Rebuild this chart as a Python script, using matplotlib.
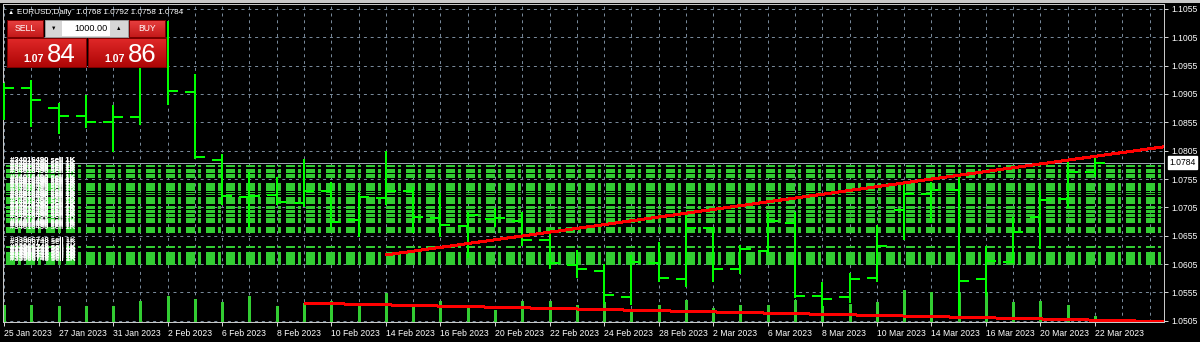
import numpy as np
import matplotlib.pyplot as plt
from matplotlib.patches import Rectangle
from matplotlib.colors import to_rgb

plt.rcParams['font.family'] = ['Liberation Sans', 'DejaVu Sans']

W, H = 1200, 342

dates = ['25 Jan 2023', '26 Jan 2023', '27 Jan 2023', '30 Jan 2023', '31 Jan 2023',
         '1 Feb 2023', '2 Feb 2023', '3 Feb 2023', '6 Feb 2023', '7 Feb 2023',
         '8 Feb 2023', '9 Feb 2023', '10 Feb 2023', '13 Feb 2023', '14 Feb 2023',
         '15 Feb 2023', '16 Feb 2023', '17 Feb 2023', '20 Feb 2023', '21 Feb 2023',
         '22 Feb 2023', '23 Feb 2023', '24 Feb 2023', '27 Feb 2023', '28 Feb 2023',
         '1 Mar 2023', '2 Mar 2023', '3 Mar 2023', '6 Mar 2023', '7 Mar 2023',
         '8 Mar 2023', '9 Mar 2023', '10 Mar 2023', '13 Mar 2023', '14 Mar 2023',
         '15 Mar 2023', '16 Mar 2023', '17 Mar 2023', '20 Mar 2023', '21 Mar 2023',
         '22 Mar 2023']

open_ = [1.0905, 1.0916, 1.0880, 1.0866, 1.0856, 1.0864, 1.0990, 1.0909, 1.0789, 1.0724,
         1.0727, 1.0713, 1.0733, 1.0683, 1.0721, 1.0733, 1.0687, 1.0672, 1.0684, 1.0681,
         1.0647, 1.0603, 1.0593, 1.0546, 1.0606, 1.0578, 1.0668, 1.0597, 1.0628, 1.0678,
         1.0548, 1.0547, 1.0580, 1.0700, 1.0729, 1.0736, 1.0578, 1.0609, 1.0688, 1.0719,
         1.0768]
high = [1.0925, 1.0930, 1.0890, 1.0903, 1.0885, 1.0995, 1.1034, 1.0940, 1.0800, 1.0768,
        1.0759, 1.0791, 1.0750, 1.0730, 1.0804, 1.0741, 1.0730, 1.0697, 1.0703, 1.0697,
        1.0668, 1.0630, 1.0605, 1.0621, 1.0644, 1.0691, 1.0670, 1.0638, 1.0695, 1.0697,
        1.0574, 1.0590, 1.0674, 1.0747, 1.0750, 1.0759, 1.0636, 1.0688, 1.0733, 1.0789,
        1.0792]
low = [1.0860, 1.0847, 1.0835, 1.0845, 1.0803, 1.0850, 1.0886, 1.0791, 1.0709, 1.0668,
       1.0709, 1.0706, 1.0665, 1.0653, 1.0709, 1.0659, 1.0653, 1.0615, 1.0670, 1.0636,
       1.0597, 1.0580, 1.0534, 1.0533, 1.0573, 1.0565, 1.0574, 1.0588, 1.0621, 1.0545,
       1.0525, 1.0537, 1.0574, 1.0647, 1.0678, 1.0516, 1.0548, 1.0606, 1.0631, 1.0703,
       1.0758]
close = [1.0916, 1.0894, 1.0866, 1.0856, 1.0864, 1.0990, 1.0911, 1.0793, 1.0725, 1.0725,
         1.0714, 1.0733, 1.0679, 1.0724, 1.0734, 1.0688, 1.0674, 1.0691, 1.0686, 1.0647,
         1.0606, 1.0597, 1.0550, 1.0608, 1.0580, 1.0669, 1.0597, 1.0631, 1.0681, 1.0549,
         1.0544, 1.0578, 1.0637, 1.0729, 1.0736, 1.0575, 1.0611, 1.0662, 1.0718, 1.0768,
         1.0784]
volume = [17, 17, 16, 16, 16, 21, 26, 23, 20, 26, 16, 19, 21, 17, 29, 17, 21, 14, 12, 21,
          21, 17, 20, 13, 17, 22, 14, 17, 17, 22, 16, 18, 20, 32, 30, 30, 30, 20, 21, 17, 6]

# open sell orders (1K each)
orders_upper = [1.07797, 1.07780, 1.07727, 1.07709, 1.07691, 1.07674, 1.07639, 1.07621,
                1.07603, 1.07586, 1.07480, 1.07462, 1.07444, 1.07427, 1.07409, 1.07392,
                1.07374, 1.07356, 1.07321, 1.07286, 1.07233, 1.07215, 1.07197, 1.07180,
                1.07162, 1.07145, 1.07127, 1.07074, 1.07056, 1.07039, 1.07003, 1.06986,
                1.06968, 1.06933, 1.06915, 1.06897, 1.06862, 1.06845, 1.06827, 1.06809,
                1.06792, 1.06704, 1.06686, 1.06668, 1.06651, 1.06633, 1.06615]
orders_lower = [1.06368, 1.06350, 1.06262, 1.06245, 1.06227, 1.06209, 1.06192, 1.06174,
                1.06156, 1.06139, 1.06121, 1.06103, 1.06086, 1.06068, 1.06050]
ticket_upper = '#34016490 sell 1K'
ticket_lower = '#33966748 sell 1K'

# trendlines: anchor bars and prices (rays to the right)
trend_up_x, trend_up_y = [14, 40], [1.0621, 1.0795]
trend_dn_x, trend_dn_y = [11, 40], [1.0536, 1.0506]

price_levels = [1.0505, 1.0555, 1.0605, 1.0655, 1.0705, 1.0755, 1.0805, 1.0855,
                1.0905, 1.0955, 1.1005, 1.1055]
spread = 0.0002

BAR = '#00FF00'
ORD = '#32CD32'
GRID = '#778899'
PX = 0.72  # one pixel in points

fig = plt.figure(figsize=(12, 3.42), dpi=100, facecolor='black')
ax = fig.add_axes([3 / W, 1 - 322 / H, 1161 / W, 318 / H], facecolor='black')
x = np.arange(len(dates))
xmin, xmax = -0.037, 42.53
ax.set_xlim(xmin, xmax)
ax.set_ylim(1.05027, 1.10638)

# grid
ax.set_xticks(x[::2])
ax.set_xticklabels(dates[::2], ha='left')
ax.set_xticks(np.arange(0, 43), minor=True)
ax.set_yticks(price_levels)
ax.set_yticklabels([f'{p:.4f}' for p in price_levels])
ax.yaxis.tick_right()
ax.grid(True, which='both', axis='x', color=GRID, lw=PX, ls=(0, (3, 3.8)), zorder=0)
ax.grid(True, which='major', axis='y', color=GRID, lw=PX, ls=(0, (3, 3.8)), zorder=0)
ax.set_axisbelow(True)
ax.tick_params(which='major', colors='#D0D0D0', labelcolor='white', labelsize=6.2,
               length=3, width=PX, pad=2)
ax.tick_params(which='minor', length=0)
for s in ax.spines.values():
    s.set_color('#C8C8C8')
    s.set_linewidth(PX)

# volumes along the bottom
vol = np.array(volume, dtype=float)
ax.vlines(x, 0, vol / vol.max() * 0.1, transform=ax.get_xaxis_transform(),
          color=ORD, lw=1.4 * PX, zorder=1, antialiased=False)

# order lines with labels
for prices, label in [(orders_upper, ticket_upper), (orders_lower, ticket_lower)]:
    ax.hlines(prices, xmin, xmax, color=ORD, lw=PX,
              linestyles=[(17, (9, 3.5, 2.5, 5.3))], zorder=2, antialiased=False)
    for p in prices:
        ax.annotate(label, (xmin, p), xytext=(7, 1.5), textcoords='offset pixels',
                    color='white', fontsize=5.6, fontweight='bold',
                    va='bottom', ha='left', zorder=3)

# bid line
bid = close[-1]
ax.axhline(bid, color='#9AA4AE', lw=PX, zorder=2.5)
ax.text(1.0045, bid, f'{bid:.4f}', transform=ax.get_yaxis_transform(), color='black',
        fontsize=6.2, va='center', ha='left', clip_on=False,
        bbox=dict(boxstyle='square,pad=0.2', fc='white', ec='white'))

# OHLC bars
ax.vlines(x, low, high, color=BAR, lw=2 * PX, zorder=4, antialiased=False)
ax.hlines(open_, x - 0.37, x, color=BAR, lw=2 * PX, zorder=4, antialiased=False)
ax.hlines(close, x, x + 0.37, color=BAR, lw=2 * PX, zorder=4, antialiased=False)

# trendlines
for tx, ty in [(trend_up_x, trend_up_y), (trend_dn_x, trend_dn_y)]:
    k = (ty[1] - ty[0]) / (tx[1] - tx[0])
    ax.plot([tx[0], xmax], [ty[0], ty[0] + k * (xmax - tx[0])], color='#FF0000',
            lw=2 * PX, zorder=5, antialiased=False, solid_capstyle='butt')


# ---- window chrome / one-click trading panel ----
def rect(x0, y0, x1, y1, **kw):
    fig.add_artist(Rectangle((x0 / W, 1 - y1 / H), (x1 - x0) / W, (y1 - y0) / H,
                             transform=fig.transFigure, **kw))


def grad(x0, y0, x1, y1, c_top, c_bot):
    gax = fig.add_axes([x0 / W, 1 - y1 / H, (x1 - x0) / W, (y1 - y0) / H])
    t = np.linspace(0, 1, 32)[:, None, None]
    img = np.array(to_rgb(c_top)) * (1 - t) + np.array(to_rgb(c_bot)) * t
    gax.imshow(img, aspect='auto')
    gax.set_xticks([])
    gax.set_yticks([])
    for s in gax.spines.values():
        s.set_color('#7A0000')
        s.set_linewidth(PX)


def ftext(xp, yp, s, **kw):
    fig.text(xp / W, 1 - yp / H, s, **kw)


rect(0, 0, W, 3, fc='#C8C8C8', ec='none')

ftext(10.5, 12, '▲', color='white', fontsize=4.5, ha='center', va='center')
ftext(17, 12, f'EURUSD,Daily  {open_[-1]:.4f} {high[-1]:.4f} {low[-1]:.4f} {close[-1]:.4f}',
      color='white', fontsize=5.9, va='center')

grad(7, 20, 43, 37, '#E84040', '#C41A1A')
ftext(25, 28.5, 'SELL', color='white', fontsize=6.2, ha='center', va='center')
rect(45, 20, 128, 37, fc='#D6D6D6', ec='#9A9A9A', lw=PX)
rect(62, 21, 110, 36, fc='white', ec='none')
ftext(53.5, 28.5, '▼', color='black', fontsize=4, ha='center', va='center')
ftext(119, 28.5, '▲', color='black', fontsize=4, ha='center', va='center')
ftext(108, 28.5, '1000.00', color='black', fontsize=6.6, ha='right', va='center')
grad(129, 20, 165, 37, '#E84040', '#C41A1A')
ftext(147, 28.5, 'BUY', color='white', fontsize=6.2, ha='center', va='center')

ask = bid + spread
for (x0, x1), price in [((7, 86), bid), ((88, 166), ask)]:
    grad(x0, 38, x1, 67, '#E02828', '#AE0606')
    s = f'{price:.4f}'
    ftext(x0 + 16, 62.5, s[:4], color='white', fontsize=7.6, fontweight='bold',
          ha='left', va='baseline')
    ftext(x0 + 40, 62.5, s[4:], color='white', fontsize=18.5, ha='left', va='baseline')

fig.savefig('out.png', dpi=100, facecolor='black')
